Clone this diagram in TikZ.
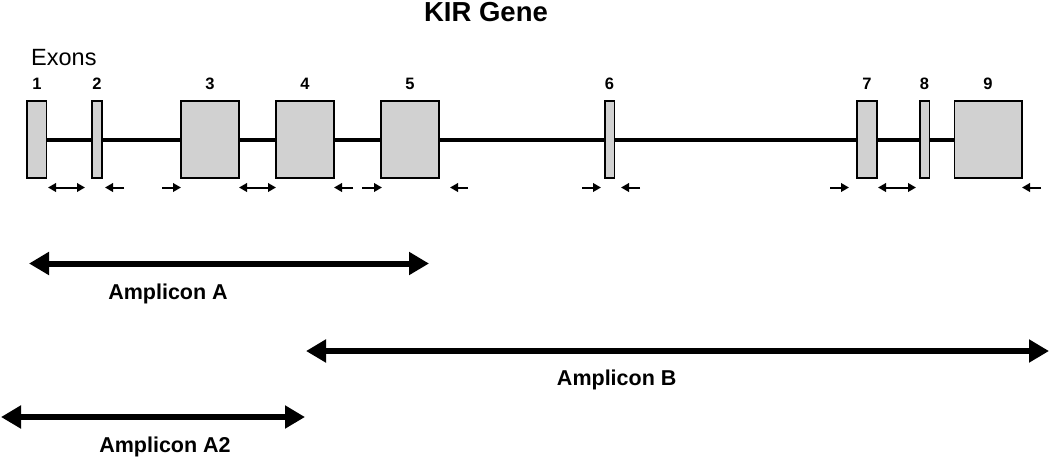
\documentclass[tikz,border=0pt]{standalone}
\usepackage{fontspec}
\setmainfont{Liberation Sans}
\usetikzlibrary{arrows.meta}
\definecolor{exongray}{RGB}{209,209,209}
\tikzset{
  exon/.style={draw=black, line width=1.5pt, fill=exongray, inner sep=0pt, minimum height=77pt},
  intron/.style={line width=4pt, black},
  primer/.style={line width=2pt, -{Triangle[length=8pt,width=8.5pt]}},
  primerboth/.style={line width=2pt, {Triangle[length=8pt,width=8.5pt]}-{Triangle[length=8pt,width=8.5pt]}},
  amplicon/.style={line width=6pt, {Triangle[length=20pt,width=22pt]}-{Triangle[length=20pt,width=22pt]}},
  exnum/.style={font=\fontsize{16.5}{16.5}\selectfont\bfseries, inner sep=0pt},
  amplabel/.style={font=\fontsize{21.5}{21.5}\selectfont\bfseries, inner sep=0pt}
}
\begin{document}
\begin{tikzpicture}[x=1pt,y=-1pt]
\useasboundingbox (0,0) rectangle (1050,459);
% title
\node[font=\fontsize{27.5}{27.5}\selectfont\bfseries, inner sep=0pt] (title) at (486,12.5) {KIR Gene};
\node[font=\fontsize{23.5}{23.5}\selectfont, inner sep=0pt, anchor=base west] (exons) at (31,65.7) {Exons};
% exons
\node[exon, minimum width=19.7pt] (e1) at (36.85,139.5) {};
\node[exon, minimum width=10pt]   (e2) at (97,139.5) {};
\node[exon, minimum width=58pt]   (e3) at (210,139.5) {};
\node[exon, minimum width=58pt]   (e4) at (305,139.5) {};
\node[exon, minimum width=58pt]   (e5) at (410,139.5) {};
\node[exon, minimum width=9.5pt]  (e6) at (609.5,139.5) {};
\node[exon, minimum width=20pt]   (e7) at (867,139.5) {};
\node[exon, minimum width=9.5pt]  (e8) at (924.5,139.5) {};
\node[exon, minimum width=67.5pt] (e9) at (988,139.5) {};
% introns
\draw[intron] (e1.east) -- (e2.west);
\draw[intron] (e2.east) -- (e3.west);
\draw[intron] (e3.east) -- (e4.west);
\draw[intron] (e4.east) -- (e5.west);
\draw[intron] (e5.east) -- (e6.west);
\draw[intron] (e6.east) -- (e7.west);
\draw[intron] (e7.east) -- (e8.west);
\draw[intron] (e8.east) -- (e9.west);
% exon numbers
\foreach \i in {1,...,9} {
  \node[exnum] (n\i) at (e\i.center |- 0,83.5) {\i};
}
% primers
\coordinate (p1a) at (48,187.5);   \coordinate (p1b) at (85,187.5);
\coordinate (p2a) at (124,187.5);  \coordinate (p2b) at (105,187.5);
\coordinate (p3a) at (162,187.5);  \coordinate (p3b) at (181,187.5);
\coordinate (p4a) at (239,187.5);  \coordinate (p4b) at (276,187.5);
\coordinate (p5a) at (353,187.5);  \coordinate (p5b) at (334,187.5);
\coordinate (p6a) at (362,187.5);  \coordinate (p6b) at (382,187.5);
\coordinate (p7a) at (468,187.5);  \coordinate (p7b) at (450,187.5);
\coordinate (p8a) at (582,187.5);  \coordinate (p8b) at (601,187.5);
\coordinate (p9a) at (640,187.5);  \coordinate (p9b) at (621,187.5);
\coordinate (p10a) at (830,187.5); \coordinate (p10b) at (849,187.5);
\coordinate (p11a) at (878,187.5); \coordinate (p11b) at (916,187.5);
\coordinate (p12a) at (1041,187.5); \coordinate (p12b) at (1022,187.5);
\draw[primerboth] (p1a) -- (p1b);
\draw[primer] (p2a) -- (p2b);
\draw[primer] (p3a) -- (p3b);
\draw[primerboth] (p4a) -- (p4b);
\draw[primer] (p5a) -- (p5b);
\draw[primer] (p6a) -- (p6b);
\draw[primer] (p7a) -- (p7b);
\draw[primer] (p8a) -- (p8b);
\draw[primer] (p9a) -- (p9b);
\draw[primer] (p10a) -- (p10b);
\draw[primerboth] (p11a) -- (p11b);
\draw[primer] (p12a) -- (p12b);
% amplicons
\coordinate (aA1) at (29,263.5);  \coordinate (aA2) at (429,263.5);
\coordinate (aB1) at (306,351);   \coordinate (aB2) at (1049,351);
\coordinate (aC1) at (1,417);     \coordinate (aC2) at (305,417);
\draw[amplicon] (aA1) -- (aA2);
\draw[amplicon] (aB1) -- (aB2);
\draw[amplicon] (aC1) -- (aC2);
\node[amplabel] (lA) at (168,294) {Amplicon A};
\node[amplabel] (lB) at (616.7,380) {Amplicon B};
\node[amplabel] (lC) at (165,447) {Amplicon A2};
\end{tikzpicture}
\end{document}
